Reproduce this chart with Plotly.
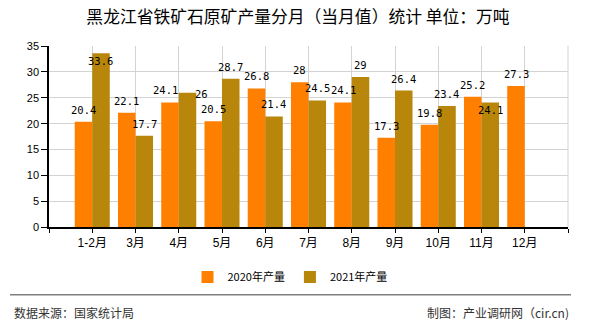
import plotly.graph_objects as go

# ---------------- data ----------------
categories = ["1-2月", "3月", "4月", "5月", "6月", "7月", "8月", "9月", "10月", "11月", "12月"]
series_names = ["2020年产量", "2021年产量"]
values_2020 = [20.4, 22.1, 24.1, 20.5, 26.8, 28, 24.1, 17.3, 19.8, 25.2, 27.3]
values_2021 = [33.6, 17.7, 26, 28.7, 21.4, 24.5, 29, 26.4, 23.4, 24.1, None]
y_ticks = [0, 5, 10, 15, 20, 25, 30, 35]

title_text = "黑龙江省铁矿石原矿产量分月（当月值）统计 单位：万吨"
source_text = "数据来源：国家统计局"
credit_text = "制图：产业调研网（cir.cn)"

# ---------------- styles ----------------
W, H = 590, 330
L, R, T, B = 49, 568, 46, 229          # plot area in pixels
colors = ["#FF8000", "#B8860B"]
bar_half = 0.2                          # offset of each bar in a group (category units)
# label nudges (pixels) for labels that avoid collisions in the reference
nudges = {(1, 0): (0, -20), (1, 2): (14, -13), (0, 2): (-5, 0), (1, 9): (0, -20)}

def px_to_paper_x(px):
    return (px - L) / (R - L)

def px_to_paper_y(py):
    return (B - py) / (B - T)

x_idx = list(range(len(categories)))

fig = go.Figure()
for s, (name, vals) in enumerate(zip(series_names, [values_2020, values_2021])):
    fig.add_trace(go.Bar(
        x=x_idx, y=vals, name=name, marker_color=colors[s],
        marker_line_width=0,
    ))

annotations = []
for s, vals in enumerate([values_2020, values_2021]):
    for i, v in enumerate(vals):
        if v is None:
            continue
        dx, dy = nudges.get((s, i), (0, 0))
        annotations.append(dict(
            x=i + (bar_half if s == 1 else -bar_half), y=v, xref="x", yref="y",
            text=f"{v:g}", showarrow=False, xanchor="center", yanchor="middle",
            xshift=dx, yshift=12 + dy,
            font=dict(family="DejaVu Sans Mono", size=10.5, color="#000000"),
        ))

annotations.append(dict(
    x=px_to_paper_x(12), y=px_to_paper_y(315), xref="paper", yref="paper",
    text=source_text, showarrow=False, xanchor="left", yanchor="middle",
    font=dict(family="Noto Sans CJK SC", size=12, color="#333333"),
))
annotations.append(dict(
    x=px_to_paper_x(571), y=px_to_paper_y(315), xref="paper", yref="paper",
    text=credit_text, showarrow=False, xanchor="right", yanchor="middle",
    font=dict(family="Noto Sans CJK SC", size=12, color="#333333"),
))

shapes = [dict(
    type="line", xref="paper", yref="paper",
    x0=px_to_paper_x(10), x1=px_to_paper_x(571),
    y0=px_to_paper_y(297), y1=px_to_paper_y(297),
    line=dict(color="#808080", width=1.5),
)]

fig.update_layout(
    width=W, height=H,
    margin=dict(l=L, r=W - R, t=T, b=H - B, pad=0),
    paper_bgcolor="white", plot_bgcolor="white",
    barmode="group", bargap=0.19, bargroupgap=0,
    title=dict(text=title_text, x=298 / W, xref="container", xanchor="center",
               y=1 - 17 / H, yref="container", yanchor="middle",
               font=dict(family="Noto Sans CJK SC", size=16.8, color="#000000")),
    showlegend=True,
    legend=dict(orientation="h", xref="container", yref="container",
                x=290 / W, xanchor="center", y=1 - 277 / H, yanchor="middle",
                font=dict(family="Noto Sans CJK SC", size=11, color="#000000"),
                itemsizing="constant", traceorder="normal"),
    annotations=annotations,
    shapes=shapes,
    font=dict(family="Liberation Sans, Noto Sans CJK SC", color="#000000"),
)

fig.update_xaxes(
    range=[-1, len(categories)],
    tickmode="array",
    tickvals=list(range(-1, len(categories) + 1)),
    ticktext=[""] + categories + [""],
    showgrid=True, gridcolor="#D3D3D3", gridwidth=1,
    showline=True, linecolor="#000000", linewidth=1.5,
    ticks="outside", ticklen=4, tickcolor="#000000",
    tickfont=dict(family="Liberation Sans, Noto Sans CJK SC", size=12, color="#000000"),
    zeroline=False, fixedrange=True,
)
fig.update_yaxes(
    range=[0, 35],
    tickmode="array", tickvals=y_ticks,
    showgrid=True, gridcolor="#D3D3D3", gridwidth=1,
    showline=True, linecolor="#000000", linewidth=1.5,
    ticks="outside", ticklen=6, tickcolor="#000000",
    tickfont=dict(family="Liberation Sans", size=11, color="#000000"),
    zeroline=False, fixedrange=True,
)
# right border gridline-like frame
fig.add_shape(type="line", xref="paper", yref="paper", x0=1, x1=1, y0=0, y1=1,
              line=dict(color="#D3D3D3", width=1), layer="below")

fig.write_html("out.html")
